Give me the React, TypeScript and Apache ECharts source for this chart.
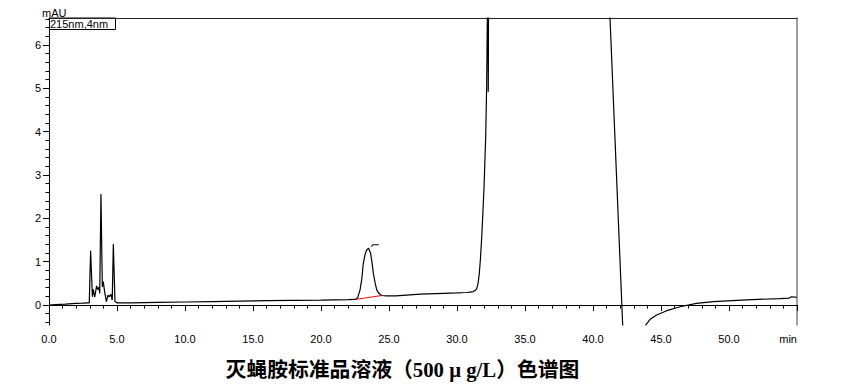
import React, { useEffect, useRef } from "react";
import * as echarts from "echarts";

// retention time (min), absorbance (mAU)
const baselineStart: [number, number][] = [
  [0, 0.0], [0.5, 0.01], [1.2, 0.02], [1.96, 0.04], [2.5, 0.045], [2.85, 0.05], [2.96, 0.05],
];
const earlyPeaks: [number, number][] = [
  [3.06, 1.25], [3.19, 0.19], [3.26, 0.36], [3.36, 0.18], [3.5, 0.44], [3.6, 0.35], [3.68, 0.42],
  [3.73, 0.27], [3.82, 2.56], [3.92, 0.42], [3.99, 0.54], [4.09, 0.31], [4.22, 0.08], [4.34, 0.23],
  [4.43, 0.19], [4.54, 0.25], [4.65, 0.115], [4.73, 1.41], [4.85, 0.08], [5.02, 0.05],
];
const driftBaseline: [number, number][] = [
  [6, 0.05], [8, 0.06], [10, 0.07], [12, 0.08], [14, 0.09], [16, 0.1], [18, 0.11], [20, 0.115],
  [22, 0.125], [22.5, 0.13],
];
const cyromazinePeak: [number, number][] = [
  [22.7, 0.17], [22.87, 0.35], [23.0, 0.6], [23.11, 0.96], [23.25, 1.18], [23.36, 1.27], [23.5, 1.31],
  [23.65, 1.19], [23.75, 0.98], [23.85, 0.73], [24.0, 0.48], [24.1, 0.35], [24.25, 0.27], [24.46, 0.22],
  [24.8, 0.21], [25.5, 0.21], [27.3, 0.25], [29, 0.27], [30.0, 0.28], [30.7, 0.29], [30.96, 0.3],
];
const solventPeak: [number, number][] = [
  [31.2, 0.31], [31.35, 0.34], [31.45, 0.38], [31.55, 0.5], [31.64, 0.73], [31.72, 1.05],
  [31.82, 1.58], [31.9, 2.1], [31.99, 2.73], [32.11, 3.88], [32.18, 5.03], [32.23, 6.57],
  [32.25, 7.5], [32.27, 8.0], [32.3, 4.92], [32.33, 8.0], [32.4, 12], [33, 15], [36, 20], [40, 15],
  [41.2, 7.0], [42.2, -0.6], [43.8, -0.6],
];
const recovery: [number, number][] = [
  [43.9, -0.45], [44.2, -0.33], [44.68, -0.23], [45.42, -0.13], [46.4, -0.04], [47.6, 0.04],
  [48.85, 0.08], [51.3, 0.12], [53.75, 0.15], [54.4, 0.16], [54.6, 0.19], [55, 0.18],
];
const integrationBaseline: [number, number][] = [[22.55, 0.13], [24.45, 0.22]];
const peakMarker: [number, number][] = [[23.72, 1.34], [23.78, 1.39], [24.26, 1.39]];

const yMajorTicks = [0, 1, 2, 3, 4, 5, 6];
const yMinorTicks = [
  -0.4, -0.2, 0.2, 0.4, 0.6, 0.8, 1.2, 1.4, 1.6, 1.8, 2.2, 2.4, 2.6, 2.8, 3.2, 3.4, 3.6, 3.8,
  4.2, 4.4, 4.6, 4.8, 5.2, 5.4, 5.6, 5.8, 6.2, 6.4, 6.6,
];
const xMin = 0;
const xMax = 55;
const yMin = -0.46;
const yMax = 6.62;

const titleText = "灭蝇胺标准品溶液（500 μ g/L）色谱图";
const channelText = "215nm,4nm";
const yUnit = "mAU";

export default function App() {
  const ref = useRef<HTMLDivElement>(null);
  useEffect(() => {
    if (!ref.current) return;
    const chart = echarts.init(ref.current, null, { renderer: "svg" });
    const trace = [
      ...baselineStart,
      ...earlyPeaks,
      ...driftBaseline,
      ...cyromazinePeak,
      ...solventPeak,
      ...recovery,
    ];
    const font = "Liberation Sans, Arial, sans-serif";
    chart.setOption({
      animation: false,
      backgroundColor: "#ffffff",
      grid: { left: 49, right: 50, top: 18, bottom: 63 },
      xAxis: [
        {
          type: "value",
          min: xMin,
          max: xMax,
          interval: 5,
          position: "bottom",
          axisLine: { show: true, lineStyle: { color: "#000", width: 1 } },
          axisTick: { show: true, length: 6, lineStyle: { color: "#000" } },
          minorTick: { show: true, splitNumber: 5, length: 3.5, lineStyle: { color: "#000" } },
          splitLine: { show: false },
          axisLabel: {
            margin: 8,
            color: "#000",
            fontSize: 11,
            fontFamily: font,
            alignMaxLabel: "right",
            formatter: (v: number) => (v === xMax ? "min" : v.toFixed(1)),
          },
        },
        {
          type: "value",
          min: xMin,
          max: xMax,
          position: "top",
          axisLine: { show: true, onZero: false, lineStyle: { color: "#222", width: 1.2 } },
          axisTick: { show: false },
          axisLabel: { show: false },
          splitLine: { show: false },
        },
      ],
      yAxis: [
        {
          type: "value",
          min: yMin,
          max: yMax,
          position: "left",
          axisLine: { show: true, onZero: false, lineStyle: { color: "#000", width: 1 } },
          axisTick: { show: true, length: 6, customValues: yMajorTicks, lineStyle: { color: "#000" } },
          axisLabel: {
            margin: 8,
            color: "#000",
            fontSize: 11,
            fontFamily: font,
            customValues: yMajorTicks,
            formatter: (v: number) => String(v),
          },
          splitLine: { show: false },
        },
        {
          type: "value",
          min: yMin,
          max: yMax,
          position: "left",
          axisLine: { show: false },
          axisTick: { show: true, length: 3.5, customValues: yMinorTicks, lineStyle: { color: "#000" } },
          axisLabel: { show: false },
          splitLine: { show: false },
        },
        {
          type: "value",
          min: yMin,
          max: yMax,
          position: "right",
          axisLine: { show: true, onZero: false, lineStyle: { color: "#808080", width: 1.5 } },
          axisTick: { show: false },
          axisLabel: { show: false },
          splitLine: { show: false },
        },
      ],
      series: [
        {
          type: "line",
          data: trace,
          showSymbol: false,
          symbol: "none",
          clip: true,
          lineStyle: { color: "#000", width: 1.2 },
        },
        {
          type: "line",
          data: integrationBaseline,
          showSymbol: false,
          symbol: "none",
          lineStyle: { color: "#ff0000", width: 1 },
        },
        {
          type: "line",
          data: peakMarker,
          showSymbol: false,
          symbol: "none",
          lineStyle: { color: "#000", width: 1 },
        },
      ],
      graphic: [
        {
          type: "rect",
          shape: { x: 49.5, y: 18, width: 66, height: 11.5 },
          style: { fill: "none", stroke: "#000", lineWidth: 1 },
        },
        {
          type: "text",
          x: 50,
          y: 18.5,
          style: { text: channelText, fill: "#000", font: `11px ${font}`, textVerticalAlign: "top" },
        },
        {
          type: "text",
          x: 42,
          y: 7,
          style: { text: yUnit, fill: "#000", font: `11px ${font}`, textVerticalAlign: "top" },
        },
        {
          type: "text",
          x: 402.5,
          y: 369,
          style: {
            text: titleText,
            fill: "#000",
            font: `bold 20.8px "Liberation Serif", "Noto Sans CJK SC", serif`,
            textAlign: "center",
            textVerticalAlign: "middle",
          },
        },
      ],
    });
    return () => chart.dispose();
  }, []);
  return (
    <div
      ref={ref}
      style={{ position: "fixed", left: 0, top: 0, width: 847, height: 388, background: "#fff" }}
    />
  );
}
